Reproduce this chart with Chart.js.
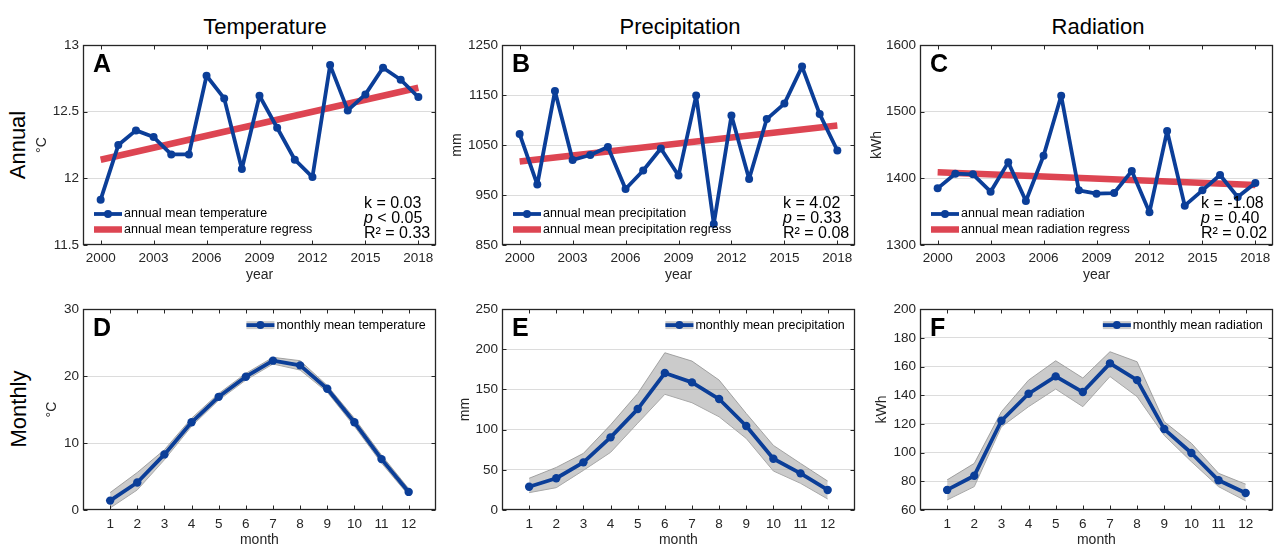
<!DOCTYPE html>
<html>
<head>
<meta charset="utf-8">
<script src="https://cdn.jsdelivr.net/npm/chart.js@4/dist/chart.umd.min.js"></script>
<style>
  html, body { margin: 0; padding: 0; background: #fff; }
  #fig { position: relative; width: 1277px; height: 547px; overflow: hidden; font-family: "Liberation Sans", Arial, sans-serif; color: #000; }
  .panel { position: absolute; }
  .coltitle { position: absolute; top: 15px; font-size: 22px; line-height: 24px; transform: translateX(-50%); white-space: nowrap; }
  .rowlabel { position: absolute; font-size: 22px; line-height: 24px; transform: translate(-50%, -50%) rotate(-90deg); white-space: nowrap; }
</style>
</head>
<body>
<div id="fig">
  <div class="coltitle" style="left:265px">Temperature</div>
  <div class="coltitle" style="left:680px">Precipitation</div>
  <div class="coltitle" style="left:1098px">Radiation</div>
  <div class="rowlabel" style="left:18px;top:145px">Annual</div>
  <div class="rowlabel" style="left:19px;top:409px">Monthly</div>
</div>
<script>
// ── data ──
const years = [2000, 2001, 2002, 2003, 2004, 2005, 2006, 2007, 2008, 2009, 2010, 2011, 2012, 2013, 2014, 2015, 2016, 2017, 2018];
const yearTicks = [2000, 2003, 2006, 2009, 2012, 2015, 2018];
const regressYears = [2000, 2018];
const months = [1, 2, 3, 4, 5, 6, 7, 8, 9, 10, 11, 12];

const tempAnnual = [11.84, 12.25, 12.36, 12.31, 12.18, 12.18, 12.77, 12.60, 12.07, 12.62, 12.38, 12.14, 12.01, 12.85, 12.51, 12.63, 12.83, 12.74, 12.61];
const tempRegress = [12.14, 12.68];
const precAnnual = [1072, 971, 1158, 1020, 1030, 1046, 962, 999, 1043, 989, 1149, 892, 1109, 982, 1102, 1133, 1207, 1112, 1039];
const precRegress = [1017, 1089];
const radAnnual = [1385, 1407, 1406, 1380, 1424, 1366, 1434, 1524, 1382, 1377, 1378, 1411, 1349, 1471, 1359, 1382, 1405, 1372, 1393];
const radRegress = [1409, 1390];

const tempMonthly = [1.4, 4.1, 8.3, 13.1, 16.9, 19.9, 22.3, 21.6, 18.1, 13.1, 7.6, 2.7];
const tempUpper = [2.6, 5.6, 9.0, 13.7, 17.4, 20.4, 22.8, 22.3, 18.6, 13.7, 8.2, 3.2];
const tempLower = [0.3, 3.0, 7.5, 12.5, 16.4, 19.4, 21.8, 20.9, 17.6, 12.5, 7.0, 2.2];
const precMonthly = [29, 39.5, 59.3, 90.4, 125.6, 170.4, 158.8, 138.1, 104.5, 63.8, 45.6, 24.9];
const precUpper = [39.5, 53, 70.5, 106, 145, 195.7, 185.3, 161.7, 120.2, 80.4, 58, 36];
const precLower = [21.6, 27.8, 49.3, 71.7, 108, 144, 133.5, 116, 89, 48.5, 33.2, 13.7];
const radMonthly = [74, 83.9, 122.2, 141, 153.1, 142.2, 162.2, 150.5, 116.4, 99.7, 80.7, 71.8];
const radUpper = [81, 92.5, 128.5, 150.5, 164, 152, 170.3, 163.3, 121.5, 106.5, 85.6, 78];
const radLower = [67, 76.3, 118, 132, 144.3, 132, 153, 139, 112, 93.7, 76.3, 66.4];

const BLUE = "#0b3e98";
const RED = "#dd4552";
const FONT = "'Liberation Sans', Arial, sans-serif";
const fig = document.getElementById("fig");

function pts(xs, ys) {
  return xs.map((x, i) => ({ x, y: ys[i] }));
}

// ── MATLAB-ish box, inward ticks, letter, legend, stats ──
const matlabAxes = {
  id: "matlabAxes",
  afterDatasetsDraw(chart) {
    const { ctx, chartArea: a, scales } = chart;
    const L = Math.round(a.left) + 0.5, R = Math.round(a.right) - 0.5;
    const T = Math.round(a.top) + 0.5, B = Math.round(a.bottom) - 0.5;
    ctx.save();
    ctx.strokeStyle = "#262626";
    ctx.lineWidth = 1;
    ctx.beginPath();
    scales.x.ticks.forEach((t) => {
      const px = Math.round(scales.x.getPixelForValue(t.value)) + 0.5;
      ctx.moveTo(px, B); ctx.lineTo(px, B - 4);
      ctx.moveTo(px, T); ctx.lineTo(px, T + 4);
    });
    scales.y.ticks.forEach((t) => {
      const py = Math.round(scales.y.getPixelForValue(t.value)) + 0.5;
      ctx.moveTo(L, py); ctx.lineTo(L + 4, py);
      ctx.moveTo(R, py); ctx.lineTo(R - 4, py);
    });
    ctx.stroke();
    ctx.lineWidth = 1.3;
    ctx.strokeRect(L, T, R - L, B - T);
    ctx.restore();
  },
  afterDraw(chart, args, opts) {
    const { ctx, chartArea: a } = chart;
    ctx.save();
    ctx.fillStyle = "#000";
    ctx.font = "bold 25px " + FONT;
    ctx.textBaseline = "alphabetic";
    ctx.textAlign = "left";
    ctx.fillText(opts.letter, a.left + 10, a.top + 27);

    // legend
    ctx.font = "12.5px " + FONT;
    ctx.textBaseline = "middle";
    const drawSample = (x0, y, item) => {
      if (item.patch) {
        ctx.fillStyle = "rgba(140,140,140,0.45)";
        ctx.fillRect(x0, y - 4, 28, 8);
      }
      ctx.strokeStyle = item.color;
      ctx.lineWidth = item.width;
      ctx.beginPath(); ctx.moveTo(x0, y); ctx.lineTo(x0 + 28, y); ctx.stroke();
      if (item.marker) {
        ctx.fillStyle = item.color;
        ctx.beginPath(); ctx.arc(x0 + 14, y, 4, 0, Math.PI * 2); ctx.fill();
      }
    };
    if (opts.legendPos === "bottomleft") {
      opts.legend.forEach((item, i) => {
        const y = a.bottom - 31 + i * 15.5;
        drawSample(a.left + 11, y, item);
        ctx.fillStyle = "#000";
        ctx.fillText(item.label, a.left + 41, y);
      });
    } else {
      opts.legend.forEach((item) => {
        const y = a.top + 16;
        const w = ctx.measureText(item.label).width;
        const tx = a.right - 10 - w;
        drawSample(tx - 30, y, item);
        ctx.fillStyle = "#000";
        ctx.fillText(item.label, tx, y);
      });
    }

    // regression stats
    if (opts.stats) {
      const x0 = a.right - 72;
      ctx.textBaseline = "alphabetic";
      ctx.fillStyle = "#000";
      ctx.font = "16px " + FONT;
      ctx.fillText("k = " + opts.stats[0], x0, a.bottom - 37);
      ctx.font = "italic 16px " + FONT;
      ctx.fillText("p", x0, a.bottom - 22);
      const pw = ctx.measureText("p").width;
      ctx.font = "16px " + FONT;
      ctx.fillText(" " + opts.stats[1], x0 + pw, a.bottom - 22);
      ctx.fillText("R\u00B2 = " + opts.stats[2], x0, a.bottom - 7);
    }
    ctx.restore();
  },
};

// ── panel factory ──
function makePanel(p) {
  const axisH = p.row === 0 ? 45 : 37;
  const w = p.plot[1] - p.plot[0] + 60 + 4;
  const h = p.plot[3] - p.plot[2] + 12 + axisH;
  const div = document.createElement("div");
  div.className = "panel";
  div.style.left = p.plot[0] - 60 + "px";
  div.style.top = p.plot[2] - 12 + "px";
  div.style.width = w + "px";
  div.style.height = h + "px";
  const canvas = document.createElement("canvas");
  div.appendChild(canvas);
  fig.appendChild(div);

  new Chart(canvas, {
    type: "line",
    data: { datasets: p.datasets },
    options: {
      responsive: true,
      maintainAspectRatio: false,
      animation: false,
      events: [],
      layout: { padding: { left: 0, top: 12, right: 4, bottom: 0 } },
      elements: { line: { borderJoinStyle: "round", borderCapStyle: "butt" } },
      plugins: {
        legend: { display: false },
        tooltip: { enabled: false },
        matlabAxes: { letter: p.letter, legend: p.legend, legendPos: p.legendPos, stats: p.stats },
      },
      scales: {
        x: {
          type: "linear",
          min: p.xRange[0],
          max: p.xRange[1],
          afterBuildTicks: (s) => { s.ticks = p.xTicks.map((v) => ({ value: v })); },
          afterFit: (s) => { s.height = axisH; },
          grid: { display: false, drawTicks: false },
          border: { display: false },
          ticks: { color: "#262626", font: { family: FONT, size: 13.5 }, padding: p.row === 0 ? 5 : 6, maxRotation: 0, autoSkip: false, callback: (v) => String(v) },
          title: { display: true, text: p.xTitle, color: "#262626", font: { family: FONT, size: 14, lineHeight: 1 }, padding: { top: 0, bottom: p.row === 0 ? 8 : 0 } },
        },
        y: {
          min: p.yRange[0],
          max: p.yRange[1],
          ticks: { stepSize: p.yStep, color: "#262626", font: { family: FONT, size: 13.5 }, padding: 4, callback: (v) => String(+v.toFixed(2)) },
          afterFit: (s) => { s.width = 60; },
          grid: { color: (c) => (c.index === 0 || c.index === c.scale.ticks.length - 1 ? "rgba(0,0,0,0)" : "#dcdcdc"), lineWidth: 1, drawTicks: false },
          border: { display: false },
          title: { display: true, text: p.yTitle, color: "#262626", font: { family: FONT, size: 14, lineHeight: 1 }, padding: { top: p.yTitlePad, bottom: 0 } },
        },
      },
    },
    plugins: [matlabAxes],
  });
}

function annualSets(values, regress) {
  return [
    { data: pts(years, values), borderColor: BLUE, backgroundColor: BLUE, borderWidth: 3.8, pointRadius: 4, pointBorderWidth: 0, tension: 0, order: 0 },
    { data: pts(regressYears, regress), borderColor: RED, borderWidth: 6.5, pointRadius: 0, tension: 0, order: 1 },
  ];
}

function monthlySets(mean, upper, lower) {
  return [
    { data: pts(months, mean), borderColor: BLUE, backgroundColor: BLUE, borderWidth: 3.8, pointRadius: 4.2, pointBorderWidth: 0, tension: 0, order: 0 },
    { data: pts(months, upper), borderColor: "#a8a8a8", borderWidth: 1, pointRadius: 0, tension: 0, fill: false, order: 2 },
    { data: pts(months, lower), borderColor: "#a8a8a8", borderWidth: 1, pointRadius: 0, tension: 0, fill: "-1", backgroundColor: "rgba(140,140,140,0.45)", order: 1 },
  ];
}

const colL = [83, 502, 920];
const colR = [436, 855, 1273];
const rowT = [45, 309];
const rowB = [245, 510];

const annualLegend = (name) => [
  { label: "annual mean " + name, color: BLUE, width: 3.8, marker: true },
  { label: "annual mean " + name + " regress", color: RED, width: 6.5 },
];
const monthlyLegend = (name) => [{ label: "monthly mean " + name, color: BLUE, width: 3.8, marker: true, patch: true }];

const panels = [
  { row: 0, col: 0, letter: "A", yTitle: "\u00B0C", yTitlePad: 12, yRange: [11.5, 13], yStep: 0.5, datasets: annualSets(tempAnnual, tempRegress), legend: annualLegend("temperature"), stats: ["0.03", "< 0.05", "0.33"] },
  { row: 0, col: 1, letter: "B", yTitle: "mm", yTitlePad: 8, yRange: [850, 1250], yStep: 100, datasets: annualSets(precAnnual, precRegress), legend: annualLegend("precipitation"), stats: ["4.02", "= 0.33", "0.08"] },
  { row: 0, col: 2, letter: "C", yTitle: "kWh", yTitlePad: 10, yRange: [1300, 1600], yStep: 100, datasets: annualSets(radAnnual, radRegress), legend: annualLegend("radiation"), stats: ["-1.08", "= 0.40", "0.02"] },
  { row: 1, col: 0, letter: "D", yTitle: "\u00B0C", yTitlePad: 22, yRange: [0, 30], yStep: 10, datasets: monthlySets(tempMonthly, tempUpper, tempLower), legend: monthlyLegend("temperature") },
  { row: 1, col: 1, letter: "E", yTitle: "mm", yTitlePad: 16, yRange: [0, 250], yStep: 50, datasets: monthlySets(precMonthly, precUpper, precLower), legend: monthlyLegend("precipitation") },
  { row: 1, col: 2, letter: "F", yTitle: "kWh", yTitlePad: 15, yRange: [60, 200], yStep: 20, datasets: monthlySets(radMonthly, radUpper, radLower), legend: monthlyLegend("radiation") },
];

panels.forEach((p) => {
  p.plot = [colL[p.col], colR[p.col], rowT[p.row], rowB[p.row]];
  if (p.row === 0) {
    p.xRange = [1999, 2019]; p.xTicks = yearTicks; p.xTitle = "year"; p.legendPos = "bottomleft";
  } else {
    p.xRange = [0, 13]; p.xTicks = months; p.xTitle = "month"; p.legendPos = "topright";
  }
  makePanel(p);
});
</script>
</body>
</html>
